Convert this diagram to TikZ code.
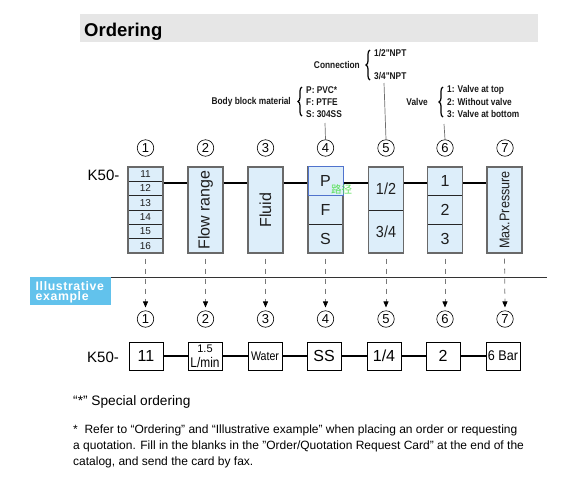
\documentclass[tikz,border=0pt]{standalone}
\usepackage{fontspec}
\setmainfont{Liberation Sans}
\newfontfamily\nar[FakeStretch=0.9]{Liberation Sans}
\newfontfamily\narr[FakeStretch=0.85]{Liberation Sans}
\newfontfamily\annf[FakeStretch=0.85]{Liberation Sans Bold}
\newfontfamily\ilfam[LetterSpace=5]{Liberation Sans Bold}
\newfontfamily\cjk{Noto Sans CJK SC}
\usetikzlibrary{decorations.pathreplacing,arrows.meta,calc}
\newcommand\setfs[1]{\fontsize{#1}{#1}\selectfont}
\definecolor{lightfill}{RGB}{221,238,250}
\definecolor{bordergray}{RGB}{105,105,105}
\definecolor{pblue}{RGB}{80,115,205}
\definecolor{dashgray}{RGB}{120,120,120}
\definecolor{linegray}{RGB}{110,110,110}
\definecolor{headgray}{RGB}{230,230,230}
\definecolor{illblue}{RGB}{98,194,236}
\definecolor{artgreen}{RGB}{90,225,90}
\definecolor{txt}{RGB}{30,30,30}
\begin{document}
\begin{tikzpicture}[x=1pt,y=-1pt,
  tb/.style={draw=bordergray,line width=1.2pt,fill=lightfill,minimum width=35pt,minimum height=86pt,inner sep=0pt},
  row/.style={draw=black!85,line width=0.7pt,fill=lightfill,minimum width=35pt,inner sep=0pt,text=txt},
  bb/.style={draw=black,line width=0.9pt,fill=white,minimum width=34pt,minimum height=28pt,inner sep=0pt},
  conn/.style={line width=1.6pt},
  dconn/.style={dashgray,line width=0.8pt,dash pattern=on 5pt off 5pt,-{Triangle[length=6pt,width=5pt,color=black]},shorten <=5pt,shorten >=3pt},
  cnum/.style={circle,draw,line width=0.6pt,minimum size=16.5pt,inner sep=0pt,font=\setfs{13}},
  ann/.style={font=\annf\setfs{9.8},inner sep=0pt,text=black!90},
  aline/.style={linegray,line width=0.7pt},
  brc/.style={decorate,decoration={brace,amplitude=4pt},line width=1.2pt},
  big/.style={font=\setfs{16}},
]
\useasboundingbox (0,0) rectangle (562,490);

% header
\node[fill=headgray,minimum width=458pt,minimum height=28pt,anchor=north west,inner sep=0pt] (head) at (80,14) {};
\node[anchor=base west,font=\bfseries\setfs{18.5},inner sep=0pt] (ordering) at (84,36.5) {Ordering};

% annotations
\node[ann,anchor=east] (conlab) at (360,65) {Connection};
\draw[brc] (370,80) -- (370,50);
\node[ann,anchor=west] (con1) at (374,53) {1/2"NPT};
\node[ann,anchor=west] (con2) at (374,76) {3/4"NPT};
\coordinate (conend) at (384,83);

\node[ann,anchor=east] (bodylab) at (291,102) {Body block material};
\draw[brc] (302,116) -- (302,87);
\node[ann,anchor=west] (bod1) at (306,90) {P: PVC*};
\node[ann,anchor=west] (bod2) at (306,102) {F: PTFE};
\node[ann,anchor=west] (bod3) at (306,114) {S: 304SS};
\coordinate (bodend) at (325,123);

\node[ann,anchor=east] (vallab) at (428,102) {Valve};
\draw[brc] (443,117) -- (443,87);
\node[ann,anchor=west] (val1) at (447,90) {1: Valve at top};
\node[ann,anchor=west] (val2) at (447,102) {2: Without valve};
\node[ann,anchor=west] (val3) at (447,114) {3: Valve at bottom};
\coordinate (valend) at (444,124);

% top circles
\node[cnum] (c1) at (145.5,148) {1};
\node[cnum] (c2) at (205.5,148) {2};
\node[cnum] (c3) at (265.5,148) {3};
\node[cnum] (c4) at (325.5,148) {4};
\node[cnum] (c5) at (386,148) {5};
\node[cnum] (c6) at (445,148) {6};
\node[cnum] (c7) at (505,148) {7};

\draw[aline] (bodend) -- (c4.north);
\draw[aline] (conend) -- (c5.north);
\draw[aline] (valend) -- (c6.north);

\node[anchor=west,font=\setfs{15},inner sep=0pt] (k50a) at (87.5,175) {K50-};

% box 1
\foreach \i/\v in {1/11,2/12,3/13,4/14,5/15,6/16}{
  \node[row,minimum height=14.33pt,font=\setfs{10}] (r1\i) at (145.5,{167+14.333*(\i-0.5)}) {\v};
}
\node[tb,fill=none] (t1) at (145.5,210) {};
% box 2,3
\node[tb] (t2) at (205.5,210) {};
\node[rotate=90,font=\setfs{16},text=txt] (t2txt) at (t2.center) {Flow range};
\node[tb] (t3) at (265.5,210) {};
\node[rotate=90,font=\setfs{16},text=txt] (t3txt) at (t3.center) {Fluid};
% box 4
\node[row,minimum height=28.67pt,big] (r42) at (325.5,210) {F};
\node[row,minimum height=28.67pt,big] (r43) at (325.5,238.67) {S};
\node[tb,fill=none] (t4) at (325.5,210) {};
\node[row,draw=pblue,line width=1pt,minimum height=28.67pt,big] (r41) at (325.5,181.33) {P};
% box 5
\node[row,minimum height=43pt,font=\nar\setfs{16}] (r51) at (386,188.5) {1/2};
\node[row,minimum height=43pt,font=\nar\setfs{16}] (r52) at (386,231.5) {3/4};
\node[tb,fill=none] (t5) at (386,210) {};
% box 6
\node[row,minimum height=28.67pt,big] (r61) at (445,181.33) {1};
\node[row,minimum height=28.67pt,big] (r62) at (445,210) {2};
\node[row,minimum height=28.67pt,big] (r63) at (445,238.67) {3};
\node[tb,fill=none] (t6) at (445,210) {};
% box 7
\node[tb] (t7) at (504.5,210) {};
\node[rotate=90,font=\nar\setfs{14},text=txt] (t7txt) at (t7.center) {Max.Pressure};

% artifact label
\node[text=artgreen,font=\cjk\setfs{10.5},inner sep=0pt,anchor=west] (art) at (331,189.5) {路径};

% top connectors
\coordinate (Y) at (0,183);
\draw[conn] (t1.east |- Y) -- (t2.west |- Y);
\draw[conn] (t2.east |- Y) -- (t3.west |- Y);
\draw[conn] (t3.east |- Y) -- (t4.west |- Y);
\draw[conn] (t4.east |- Y) -- (t5.west |- Y);
\draw[conn] (t5.east |- Y) -- (t6.west |- Y);
\draw[conn] (t6.east |- Y) -- (t7.west |- Y);

% illustrative example
\node[fill=illblue,minimum width=81pt,minimum height=27.5pt,anchor=north west,inner sep=0pt] (ill) at (30,277) {};
\node[anchor=base west,text=white,font=\ilfam\setfs{12.3},inner sep=0pt] (ill1) at (35.5,290.5) {Illustrative};
\node[anchor=base west,text=white,font=\ilfam\setfs{12.3},inner sep=0pt] (ill2) at (35.5,300.5) {example};
\coordinate (sepend) at (547,277);
\draw[black!80,line width=0.9pt] (ill.north east) -- (sepend);

% bottom circles
\node[cnum] (d1) at (145.5,319) {1};
\node[cnum] (d2) at (205.5,319) {2};
\node[cnum] (d3) at (265.5,319) {3};
\node[cnum] (d4) at (325.5,319) {4};
\node[cnum] (d5) at (386,319) {5};
\node[cnum] (d6) at (445,319) {6};
\node[cnum] (d7) at (505,319) {7};

\draw[dconn] (t1.south) -- (d1.north);
\draw[dconn] (t2.south) -- (d2.north);
\draw[dconn] (t3.south) -- (d3.north);
\draw[dconn] (t4.south) -- (d4.north);
\draw[dconn] (t5.south) -- (d5.north);
\draw[dconn] (t6.south) -- (d6.north);
\draw[dconn] (t7.south) -- (d7.north);

% bottom row
\node[anchor=west,font=\setfs{15},inner sep=0pt] (k50b) at (87,357) {K50-};
\node[bb,font=\setfs{16}] (b1) at (146,356) {11};
\node[bb] (b2) at (205,356) {};
\node[font=\setfs{11},inner sep=0pt] (b2a) at (205,349) {1.5};
\node[font=\narr\setfs{14},inner sep=0pt] (b2b) at (205,362) {L/min};
\node[bb,font=\narr\setfs{12.5}] (b3) at (265,356) {Water};
\node[bb,font=\setfs{16}] (b4) at (324,356) {SS};
\node[bb,font=\setfs{16}] (b5) at (384,356) {1/4};
\node[bb,font=\setfs{16}] (b6) at (443,356) {2};
\node[bb,font=\nar\setfs{14}] (b7) at (503,356) {6 Bar};
\draw[conn] (b1) -- (b2);
\draw[conn] (b2) -- (b3);
\draw[conn] (b3) -- (b4);
\draw[conn] (b4) -- (b5);
\draw[conn] (b5) -- (b6);
\draw[conn] (b6) -- (b7);

% footer
\node[anchor=base west,font=\setfs{13.7},inner sep=0pt] (spec) at (73,405) {“*” Special ordering};
\node[anchor=base west,font=\setfs{12},inner sep=0pt] (p1) at (73,433) {*\ \ Refer to “Ordering” and “Illustrative example” when placing an order or requesting};
\node[anchor=base west,font=\setfs{12},inner sep=0pt] (p2) at (73,449) {a quotation. Fill in the blanks in the "Order/Quotation Request Card" at the end of the};
\node[anchor=base west,font=\setfs{12},inner sep=0pt] (p3) at (73,465) {catalog, and send the card by fax.};
\end{tikzpicture}
\end{document}
